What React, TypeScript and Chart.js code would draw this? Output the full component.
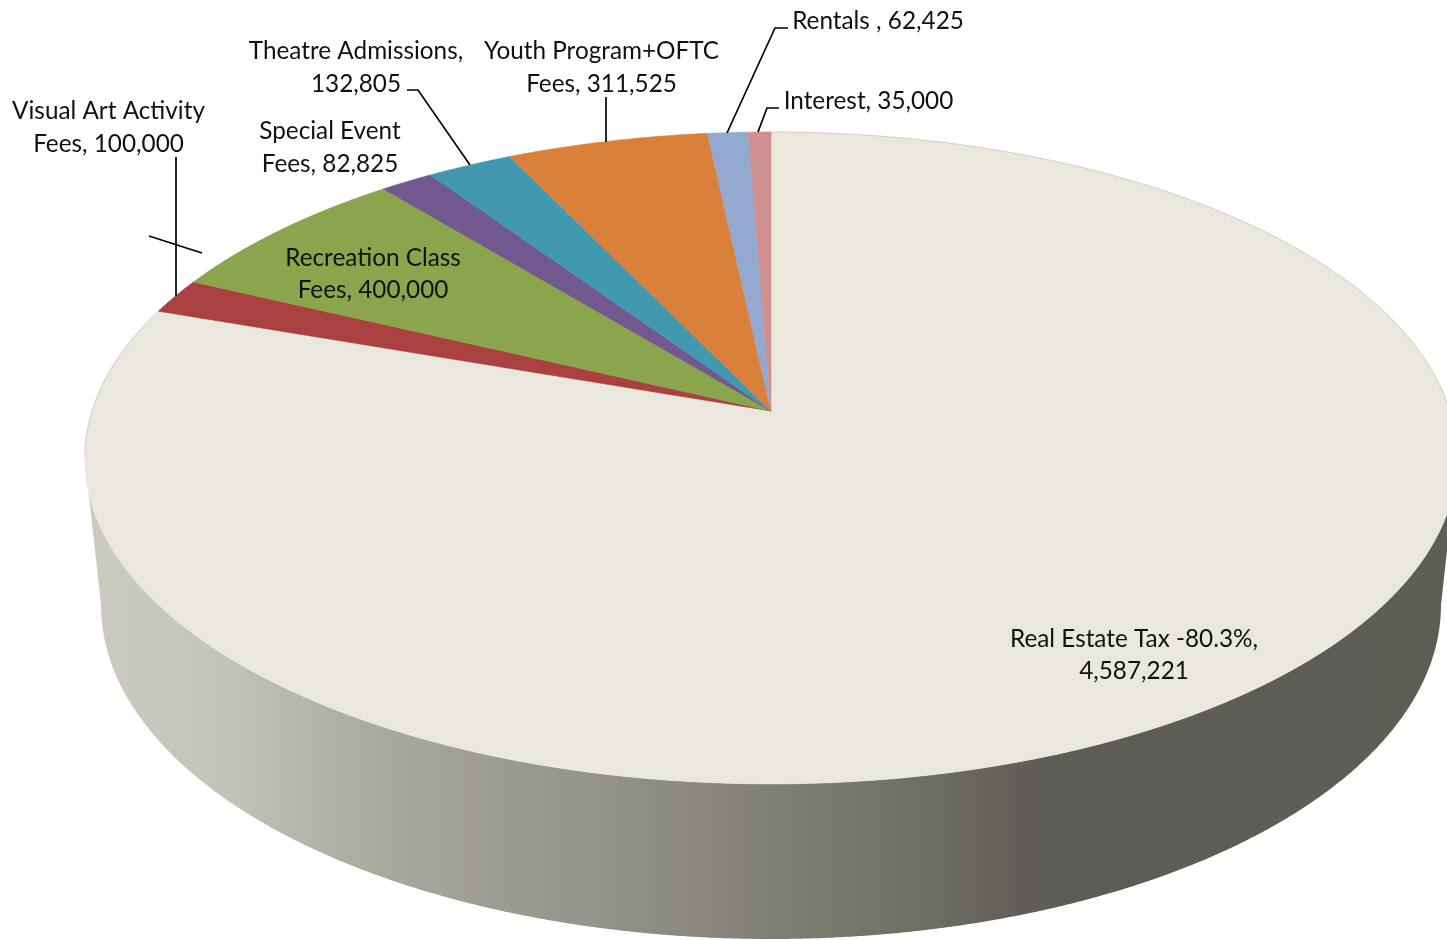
import React, { useEffect, useRef } from "react";
import { Chart, ArcElement, PieController } from "chart.js";

const categories = [
  "Real Estate Tax",
  "Visual Art Activity Fees",
  "Recreation Class Fees",
  "Special Event Fees",
  "Theatre Admissions",
  "Youth Program+OFTC Fees",
  "Rentals",
  "Interest",
];
const revenue = [4587221, 100000, 400000, 82825, 132805, 311525, 62425, 35000];
const sliceColors = ["#eae8dc", "#a8413f", "#8aa54c", "#71588f", "#4198af", "#d9803b", "#93a9cf", "#cf9190"];

const labelLines = [
  ["Real Estate Tax -80.3%,", "4,587,221"],
  ["Visual Art Activity", "Fees, 100,000"],
  ["Recreation Class", "Fees, 400,000"],
  ["Special Event", "Fees, 82,825"],
  ["Theatre Admissions,", "132,805"],
  ["Youth Program+OFTC", "Fees, 311,525"],
  ["Rentals , 62,425"],
  ["Interest, 35,000"],
];
const labelAnchors = [
  [1134, 638.8],
  [108.5, 110.8],
  [373, 257.8],
  [330, 130.8],
  [356, 50.8],
  [601.5, 50.8],
  [878, 20.8],
  [868.5, 100.8],
];
const labelLineGaps = [32, 33, 32, 33, 33, 33, 0, 0];
const leaderPaths = [
  [[176, 157], [176, 296]],
  [[149, 236], [202, 253]],
  [[407, 90], [418, 90], [470, 165]],
  [[606, 97], [606, 142]],
  [[788, 28], [775, 28], [727, 133]],
  [[779, 108], [767, 108], [758, 132]],
];
const wallStops: [number, string][] = [
  [85, "#cdcbc0"],
  [230, "#c4c3b8"],
  [270, "#bcbbb0"],
  [352, "#adada2"],
  [472, "#a09e95"],
  [604, "#92938b"],
  [702, "#8a877f"],
  [817, "#7a7a71"],
  [931, "#6e6d65"],
  [1017, "#625e59"],
  [1075, "#5d5d57"],
  [1447, "#5e5e57"],
];

const WIDTH = 1447;
const HEIGHT = 940;
const TILT = 0.144;
const topFace = { cx: 771, cy: 411, a: 679, b: 319.2 };
const bottomFace = { cx: 771, cy: 557, a: 663, b: 327 };
const FRONT_START = (8.3 * Math.PI) / 180;
const FRONT_END = (171.7 * Math.PI) / 180;

type Face = { cx: number; cy: number; a: number; b: number };

// Perspective projection of a point on the unit disc onto a tilted face.
function project(face: Face, angle: number, r = 1): [number, number] {
  const u = r * Math.cos(angle);
  const v = r * Math.sin(angle);
  const w = 1 - TILT * v;
  return [face.cx + (face.a * u) / w, face.cy + (face.b * v) / w];
}

function traceRim(ctx: CanvasRenderingContext2D, face: Face, from: number, to: number, first: boolean) {
  const steps = Math.max(2, Math.ceil(Math.abs(to - from) / 0.004));
  for (let i = 0; i <= steps; i++) {
    const [x, y] = project(face, from + ((to - from) * i) / steps);
    if (i === 0 && first) ctx.moveTo(x, y);
    else ctx.lineTo(x, y);
  }
}

class PerspectiveArc extends ArcElement {
  static id = "perspectiveArc";

  draw(ctx: CanvasRenderingContext2D) {
    const start = this.startAngle;
    const end = this.endAngle;
    const fill = this.options.backgroundColor;

    // Side wall, only where the slice faces the viewer.
    const wallFrom = Math.max(start, FRONT_START);
    const wallTo = Math.min(end, FRONT_END);
    if (wallTo > wallFrom) {
      const gradient = ctx.createLinearGradient(85, 0, WIDTH, 0);
      wallStops.forEach(([x, color]) => gradient.addColorStop((x - 85) / (WIDTH - 85), color));
      ctx.beginPath();
      traceRim(ctx, topFace, wallFrom, wallTo, true);
      traceRim(ctx, bottomFace, wallTo, wallFrom, false);
      ctx.closePath();
      ctx.fillStyle = gradient;
      ctx.fill();
    }

    ctx.beginPath();
    ctx.moveTo(...project(topFace, 0, 0));
    traceRim(ctx, topFace, start, end, false);
    ctx.closePath();
    ctx.fillStyle = fill;
    ctx.fill();
    ctx.strokeStyle = fill;
    ctx.lineWidth = 0.6;
    ctx.stroke();

    // Faint shading along the back rim of the largest slice.
    if (end - start > Math.PI) {
      ctx.strokeStyle = "rgba(110,110,100,0.22)";
      ctx.lineWidth = 1;
      ctx.beginPath();
      traceRim(ctx, topFace, start, FRONT_START, true);
      ctx.stroke();
      ctx.beginPath();
      traceRim(ctx, topFace, FRONT_END, end, true);
      ctx.stroke();
    }
  }
}

class PerspectivePie extends PieController {
  static id = "perspectivePie";
  static defaults = { dataElementType: "perspectiveArc" };
}

Chart.register(ArcElement, PieController, PerspectiveArc, PerspectivePie);

const calloutPlugin = {
  id: "callouts",
  afterDatasetsDraw(chart: Chart) {
    const ctx = chart.ctx;
    ctx.save();
    ctx.strokeStyle = "#000000";
    ctx.lineWidth = 1.7;
    leaderPaths.forEach((path) => {
      ctx.beginPath();
      path.forEach(([x, y], i) => (i === 0 ? ctx.moveTo(x, y) : ctx.lineTo(x, y)));
      ctx.stroke();
    });
    ctx.fillStyle = "#111111";
    ctx.font = "24.3px Lato";
    ctx.textAlign = "center";
    ctx.textBaseline = "middle";
    labelLines.forEach((lines, i) => {
      const [x, y] = labelAnchors[i];
      lines.forEach((line, j) => ctx.fillText(line, x, y + j * labelLineGaps[i]));
    });
    ctx.restore();
  },
};

export default function App() {
  const canvasRef = useRef<HTMLCanvasElement | null>(null);

  useEffect(() => {
    document.body.style.margin = "0";
    const chart = new Chart(canvasRef.current!, {
      type: "perspectivePie" as any,
      data: {
        labels: categories,
        datasets: [{ data: revenue, backgroundColor: sliceColors, borderWidth: 0 }],
      },
      options: {
        responsive: false,
        animation: false,
        events: [],
        plugins: { legend: { display: false }, tooltip: { enabled: false } },
      },
      plugins: [calloutPlugin],
    });
    return () => chart.destroy();
  }, []);

  return (
    <canvas
      ref={canvasRef}
      width={WIDTH}
      height={HEIGHT}
      style={{ display: "block", width: WIDTH, height: HEIGHT, background: "#ffffff" }}
    />
  );
}
